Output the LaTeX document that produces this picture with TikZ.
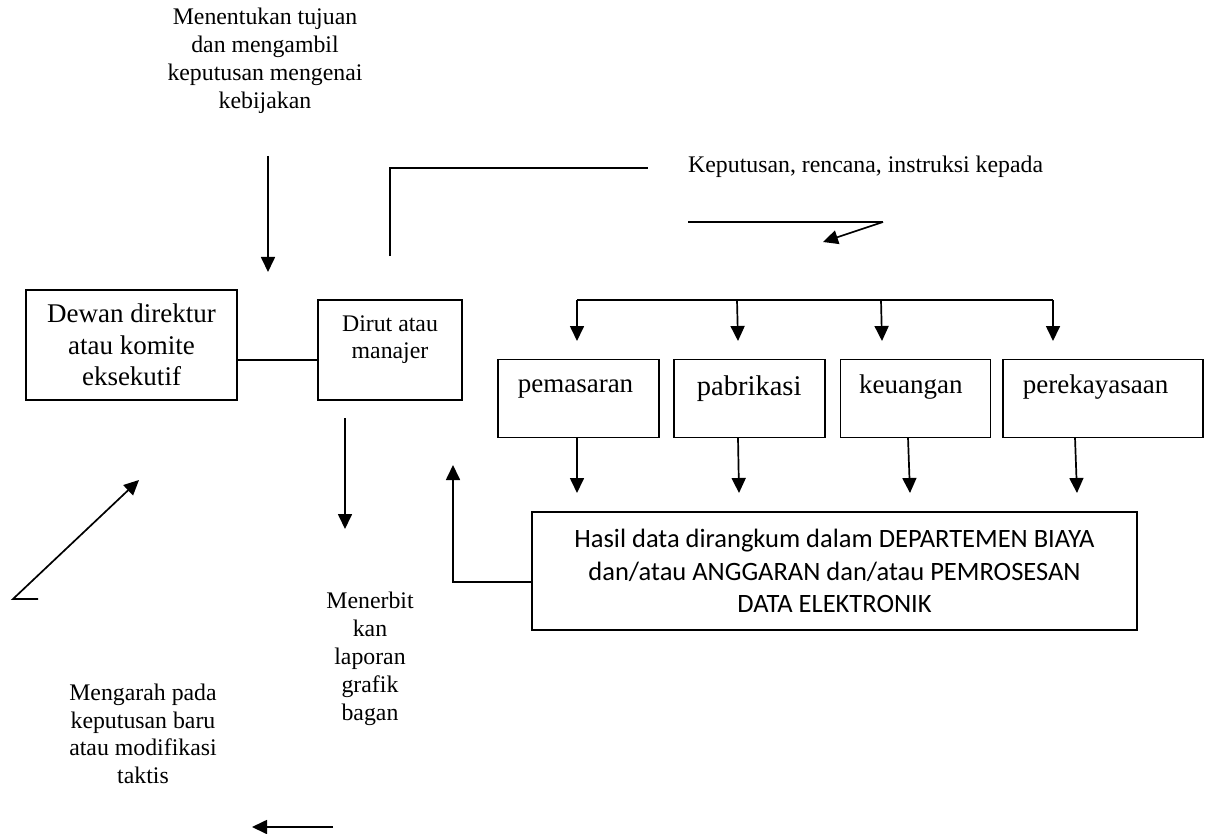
\documentclass[tikz,border=0pt]{standalone}
\usepackage{fontspec}
\setmainfont{Liberation Serif}
\newfontfamily\calibri{Carlito}
\usetikzlibrary{arrows.meta}
\usetikzlibrary{positioning}

\tikzset{
    ln/.style={line width=1.7pt},
    arr/.style={line width=1.7pt, -{Triangle[length=15pt,width=14pt]}},
    box/.style={draw, rectangle, line width=1.7pt, inner sep=0pt, align=center},
    lbl/.style={align=center, inner sep=0pt, font=\fontsize{23.8}{28}\selectfont},
    dept/.style={inner sep=0pt, anchor=base, font=\fontsize{27}{31}\selectfont},
}

\begin{document}
\begin{tikzpicture}[x=1pt, y=-1pt]
        \useasboundingbox (0,0) rectangle (1207,834);

        % Policy
        \node[lbl] (policy) at (265,61) {Menentukan tujuan\\dan mengambil\\keputusan mengenai\\kebijakan};
        \coordinate (policyin) at (268,156);
        \coordinate (policyout) at (268,272);
        \draw[arr] (policyin) -- (policyout);

        % Board and director
        \node[box, minimum width=211pt, minimum height=110pt, font=\fontsize{27}{31.5}\selectfont] (board) at (131.5,345) {Dewan direktur\\atau komite\\eksekutif};
        \node[box, minimum width=144pt, minimum height=100pt] (dirut) at (390,350) {};
        \node[lbl, font=\fontsize{23.8}{27}\selectfont] (dirutlbl) at ([yshift=-41pt]dirut.north) {Dirut atau\\manajer};
        \draw[ln] ([yshift=-15pt]board.east) -- ([yshift=-10pt]dirut.west);

        % Orders
        \coordinate (orderfoot) at ([yshift=43pt]dirut.north);
        \coordinate (orderend) at (648,168);
        \draw[ln] (orderfoot) |- (orderend);
        \node[lbl, anchor=west] (orders) at (688,167) {Keputusan, rencana, instruksi kepada};
        \coordinate (orderl) at (688,222);
        \coordinate (orderr) at (883,222);
        \coordinate (ordertip) at (823,242);
        \draw[ln] (orderl) -- (orderr);
        \draw[arr] (orderr) -- (ordertip);

        % Departments
        \node[box, minimum width=161pt, minimum height=78pt] (pemasaran) at (578.5,398.5) {};
        \node[box, minimum width=151pt, minimum height=78pt, right = 13pt of pemasaran] (pabrikasi) {};
        \node[box, minimum width=150pt, minimum height=78pt, right = 14pt of pabrikasi] (keuangan) {};
        \node[box, minimum width=200pt, minimum height=78pt, right = 11pt of keuangan] (perekayasaan) {};
        \node[dept] (pemasaranlbl) at ([xshift=-3pt,yshift=-34pt]pemasaran.north) {pemasaran};
        \node[dept, font=\fontsize{28.5}{32}\selectfont] (pabrikasilbl) at ([yshift=-37pt]pabrikasi.north) {pabrikasi};
        \node[dept] (keuanganlbl) at ([xshift=-4.5pt,yshift=-35pt]keuangan.north) {keuangan};
        \node[dept] (perekayasaanlbl) at ([xshift=-7.5pt,yshift=-35pt]perekayasaan.north) {perekayasaan};

        % Distribution to the departments
        \coordinate (bus1) at (577,300);
        \coordinate (bus4) at (1053,300);
        \draw[ln] (bus1) -- (bus4);
        \foreach \x/\dx [count=\i] in {577/0, 737/1, 881/1, 1053/0} {
            \coordinate (drop\i) at (\x,300);
            \coordinate (droptip\i) at (\x+\dx,341);
            \draw[arr] (drop\i) -- (droptip\i);
        }

        % Data summary
        \node[box, minimum width=605pt, minimum height=118pt, font=\calibri\fontsize{26.5}{32.5}\selectfont] (hasil) at (834.5,571) {Hasil data dirangkum dalam DEPARTEMEN BIAYA\\dan/atau ANGGARAN dan/atau PEMROSESAN\\DATA ELEKTRONIK};
        \foreach \x/\dx [count=\i] in {577/0, 738/1, 908/2, 1075/2} {
            \coordinate (out\i) at (\x,437.5);
            \coordinate (outtip\i) at (\x+\dx,493);
            \draw[arr] (out\i) -- (outtip\i);
        }

        % Feedback to the director
        \coordinate (backtip) at (453,465);
        \draw[arr] ([yshift=-11pt]hasil.west) -| (backtip);

        % Reports
        \coordinate (reportin) at (345,418);
        \coordinate (reportout) at (345,529);
        \draw[arr] (reportin) -- (reportout);
        \node[lbl] (report) at (370,659) {Menerbit\\kan\\laporan\\grafik\\bagan};

        % New decisions
        \node[lbl, font=\fontsize{23.8}{27.5}\selectfont] (decide) at (143,734) {Mengarah pada\\keputusan baru\\atau modifikasi\\taktis};
        \coordinate (loopfoot) at (38,599);
        \coordinate (loopcorner) at (13,599);
        \coordinate (looptip) at (139,480);
        \draw[arr] (loopfoot) -- (loopcorner) -- (looptip);
        \coordinate (backr) at (333,827);
        \coordinate (backl) at (252,827);
        \draw[arr] (backr) -- (backl);
\end{tikzpicture}
\end{document}
